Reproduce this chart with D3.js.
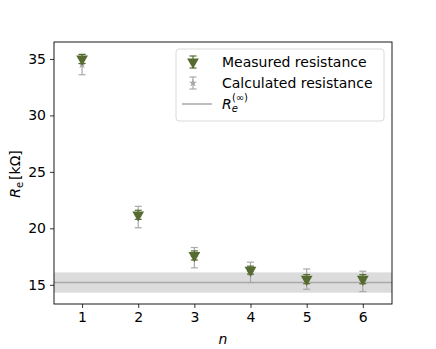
<!DOCTYPE html>
<html>
<head>
<meta charset="utf-8">
<script src="https://cdn.jsdelivr.net/npm/d3@7"></script>
<style>
body { margin: 0; background: #fff; }
text { font-family: "DejaVu Sans", sans-serif; }
</style>
</head>
<body>
<div id="chart"></div>
<script>
// values
var nValues = [1, 2, 3, 4, 5, 6];
var measured = [35.0, 21.2, 17.6, 16.3, 15.5, 15.5];
var measuredErr = [0.4, 0.4, 0.4, 0.35, 0.4, 0.4];
var calculated = [34.5, 21.0, 17.4, 16.1, 15.5, 15.3];
var calculatedErr = [0.9, 0.95, 0.9, 0.9, 0.9, 0.9];
var rInf = 15.2;
var rInfErr = 0.9;
var yTicks = [15, 20, 25, 30, 35];

var width = 436, height = 349;
var margin = {top: 42, right: 44, bottom: 45, left: 54};
var fs = 14;

var svg = d3.select("#chart").append("svg")
    .attr("width", width)
    .attr("height", height);

var xScale = d3.scaleLinear()
    .domain([0.5, 6.52])
    .range([margin.left, width - margin.right]);

var yScale = d3.scaleLinear()
    .domain([13.3, 36.5])
    .range([height - margin.bottom, margin.top]);

var green = "#556b2f";
var grey = "#a9a9a9";

// band + line for R_e^(inf)
svg.append("rect")
    .attr("x", xScale(0.5))
    .attr("width", xScale(6.52) - xScale(0.5))
    .attr("y", yScale(rInf + rInfErr))
    .attr("height", yScale(rInf - rInfErr) - yScale(rInf + rInfErr))
    .attr("fill", "#dcdcdc");

svg.append("line")
    .attr("x1", xScale(0.5)).attr("x2", xScale(6.52))
    .attr("y1", yScale(rInf)).attr("y2", yScale(rInf))
    .attr("stroke", grey).attr("stroke-width", 1.5);

function errorBars(values, errs, color, cap) {
    var g = svg.append("g");
    nValues.forEach(function(n, i){
        var x = xScale(n);
        var y0 = yScale(values[i] - errs[i]), y1 = yScale(values[i] + errs[i]);
        g.append("line").attr("x1", x).attr("x2", x).attr("y1", y0).attr("y2", y1)
            .attr("stroke", color).attr("stroke-width", 1.2);
        [y0, y1].forEach(function(y){
            g.append("line").attr("x1", x - cap).attr("x2", x + cap).attr("y1", y).attr("y2", y)
                .attr("stroke", color).attr("stroke-width", 1.2);
        });
    });
}

// calculated resistance (grey)
errorBars(calculated, calculatedErr, grey, 3.5);
var star = d3.symbol().type(d3.symbolStar).size(22);
svg.append("g").selectAll("path")
    .data(nValues)
    .join("path")
    .attr("d", star)
    .attr("transform", function(d, i){ return "translate(" + xScale(d) + "," + yScale(calculated[i]) + ")"; })
    .attr("fill", grey);

// measured resistance (green)
errorBars(measured, measuredErr, green, 3.5);
var tri = d3.symbol().type(d3.symbolTriangle).size(60);
svg.append("g").selectAll("path")
    .data(nValues)
    .join("path")
    .attr("d", tri)
    .attr("transform", function(d, i){ return "translate(" + xScale(d) + "," + yScale(measured[i]) + ") rotate(180)"; })
    .attr("fill", green);

// axes
var xAxis = svg.append("g")
    .attr("transform", "translate(0," + (height - margin.bottom) + ")")
    .call(d3.axisBottom(xScale).tickValues(nValues).tickFormat(d3.format("d")).tickSizeOuter(0).tickSize(4).tickPadding(4));
var yAxis = svg.append("g")
    .attr("transform", "translate(" + margin.left + ",0)")
    .call(d3.axisLeft(yScale).tickValues(yTicks).tickSizeOuter(0).tickSize(4).tickPadding(4));
[xAxis, yAxis].forEach(function(a){
    a.select(".domain").remove();
    a.selectAll("text").attr("font-size", fs).attr("fill", "#000").attr("font-family", "DejaVu Sans");
    a.selectAll("line").attr("stroke", "#000").attr("stroke-width", 0.8);
});

// frame
svg.append("rect")
    .attr("x", margin.left).attr("y", margin.top)
    .attr("width", width - margin.left - margin.right)
    .attr("height", height - margin.top - margin.bottom)
    .attr("fill", "none").attr("stroke", "#000").attr("stroke-width", 0.9);

// axis labels
svg.append("text")
    .attr("x", 223)
    .attr("y", 344)
    .attr("text-anchor", "middle")
    .attr("font-size", fs)
    .attr("font-style", "italic")
    .text("n");

var yl = svg.append("text")
    .attr("transform", "translate(20,174) rotate(-90)")
    .attr("text-anchor", "middle")
    .attr("font-size", fs);
yl.append("tspan").attr("font-style", "italic").text("R");
yl.append("tspan").attr("font-size", 10).attr("dy", 3).text("e");
yl.append("tspan").attr("dy", -3).attr("dx", 2).text("[k\u03A9]");

// legend
var legend = svg.append("g").attr("transform", "translate(176,49)");
legend.append("rect")
    .attr("width", 208).attr("height", 72).attr("rx", 3)
    .attr("fill", "#fff").attr("fill-opacity", 0.8)
    .attr("stroke", "#d6d6d6").attr("stroke-width", 0.9);

var rows = [
    {label: "Measured resistance", color: green, kind: "tri", y: 13},
    {label: "Calculated resistance", color: grey, kind: "star", y: 34},
    {label: null, color: grey, kind: "line", y: 55}
];
rows.forEach(function(r){
    var cx = 17;
    if (r.kind === "line") {
        legend.append("line").attr("x1", 6).attr("x2", 36).attr("y1", r.y).attr("y2", r.y)
            .attr("stroke", grey).attr("stroke-width", 1.5);
    } else {
        legend.append("line").attr("x1", cx).attr("x2", cx).attr("y1", r.y - 6).attr("y2", r.y + 6)
            .attr("stroke", r.color).attr("stroke-width", 1.2);
        [r.y - 6, r.y + 6].forEach(function(y){
            legend.append("line").attr("x1", cx - 3.5).attr("x2", cx + 3.5).attr("y1", y).attr("y2", y)
                .attr("stroke", r.color).attr("stroke-width", 1.2);
        });
        legend.append("path")
            .attr("d", r.kind === "tri" ? tri : star)
            .attr("transform", "translate(" + cx + "," + r.y + ")" + (r.kind === "tri" ? " rotate(180)" : ""))
            .attr("fill", r.color);
    }
    var t = legend.append("text").attr("x", 46).attr("y", r.y + 5).attr("font-size", fs).attr("fill", "#000");
    if (r.label) {
        t.text(r.label);
    } else {
        t.append("tspan").attr("font-style", "italic").text("R");
        t.append("tspan").attr("font-size", 10).attr("font-style", "italic").attr("dy", 3).text("e");
        t.append("tspan").attr("font-size", 10).attr("dx", -6).attr("dy", -11).text("(\u221E)");
    }
});
</script>
</body>
</html>
